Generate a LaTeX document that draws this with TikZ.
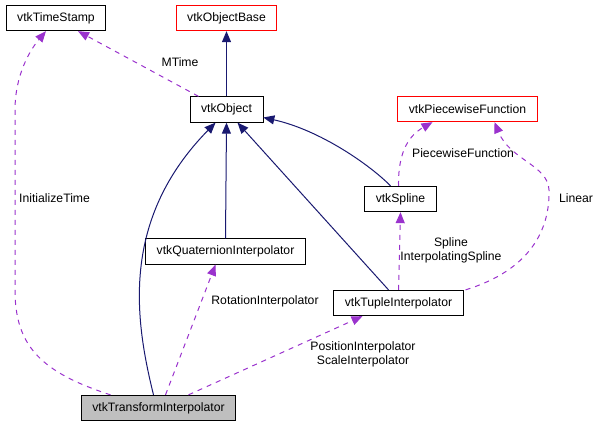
\documentclass[tikz,border=0pt]{standalone}
\usepackage{fontspec}
\setmainfont{Liberation Sans}
\usetikzlibrary{arrows.meta}
\definecolor{inhcolor}{HTML}{191970}
\definecolor{usecolor}{HTML}{9A32CD}

\begin{document}
\begin{tikzpicture}[
		x=1pt, y=-1pt,
		font=\fontsize{12.2}{14}\selectfont,
		box/.style={draw, rectangle, line width=0.8pt, inner xsep=11pt, inner ysep=0pt, minimum height=25.5pt},
		extbox/.style={box, draw=red},
		mainbox/.style={box, fill=black!25},
		inh/.style={-{Triangle[length=11pt, width=9pt, fill=inhcolor]}, draw=inhcolor, line width=1pt},
		use/.style={-{Triangle[length=11pt, width=9pt, fill=usecolor]}, draw=usecolor, line width=1pt, dash pattern=on 5pt off 5pt},
		lbl/.style={align=center, inner sep=0pt}
		]
		\useasboundingbox (0,0) rectangle (593,427);
		
		% Nodes
		\node[box] (vtkTimeStamp) at (56,18) {vtkTimeStamp};
		\node[extbox] (vtkObjectBase) at (226.5,18) {vtkObjectBase};
		\node[box] (vtkObject) at (226.5,109.5) {vtkObject};
		\node[extbox] (vtkPiecewiseFunction) at (467.5,109) {vtkPiecewiseFunction};
		\node[box] (vtkSpline) at (400.5,199) {vtkSpline};
		\node[box] (vtkQuaternionInterpolator) at (225.5,251.5) {vtkQuaternionInterpolator};
		\node[box] (vtkTupleInterpolator) at (398.5,303) {vtkTupleInterpolator};
		\node[mainbox] (vtkTransformInterpolator) at (158.5,408) {vtkTransformInterpolator};
		
		% Arrows (inheritance)
		\draw[inh] (vtkObject.north) -- (vtkObjectBase.south);
		\draw[inh] ([xshift=-5pt]vtkTransformInterpolator.north) .. controls (135,320) and (120,220) .. ([xshift=-11pt]vtkObject.south);
		\draw[inh] (vtkQuaternionInterpolator.north) -- (vtkObject.south);
		\draw[inh] ([xshift=-10pt]vtkTupleInterpolator.north) -- ([xshift=11pt]vtkObject.south);
		\draw[inh] ([xshift=-10pt]vtkSpline.north) .. controls (370,165) and (320,130) .. ([yshift=-8pt]vtkObject.east);
		
		% Arrows (usage)
		\draw[use] ([xshift=-28pt]vtkObject.north) -- ([xshift=22pt]vtkTimeStamp.south);
		\node[lbl] (lblMTime) at (180,62) {MTime};
		\draw[use] ([xshift=-48pt]vtkTransformInterpolator.north) .. controls (40,372) and (15,345) .. (15,290) -- (15,110) .. controls (15,75) and (30,50) .. ([xshift=-10pt]vtkTimeStamp.south);
		\node[lbl, anchor=west] (lblInitializeTime) at (19,198) {InitializeTime};
		\draw[use] ([xshift=7pt]vtkTransformInterpolator.north) -- ([xshift=-10pt]vtkQuaternionInterpolator.south);
		\node[lbl] (lblRotation) at (265,301) {RotationInterpolator};
		\draw[use] ([xshift=30pt]vtkTransformInterpolator.north) -- ([xshift=-36pt]vtkTupleInterpolator.south);
		\node[lbl] (lblPosition) at (363,354) {PositionInterpolator\\ScaleInterpolator};
		\draw[use] (vtkTupleInterpolator.north) -- (vtkSpline.south);
		\node[lbl] (lblSpline) at (451,250) {Spline\\InterpolatingSpline};
		\draw[use] ([xshift=-2pt]vtkSpline.north) .. controls (398,150) and (410,135) .. ([xshift=-35pt]vtkPiecewiseFunction.south);
		\node[lbl] (lblPiecewise) at (463,153) {PiecewiseFunction};
		\draw[use] ([xshift=2pt]vtkTupleInterpolator.north east) .. controls (530,270) and (550,230) .. (549,190) .. controls (548,165) and (510,160) .. ([xshift=27pt]vtkPiecewiseFunction.south);
		\node[lbl] (lblLinear) at (576,198) {Linear};
	\end{tikzpicture}
\end{document}
